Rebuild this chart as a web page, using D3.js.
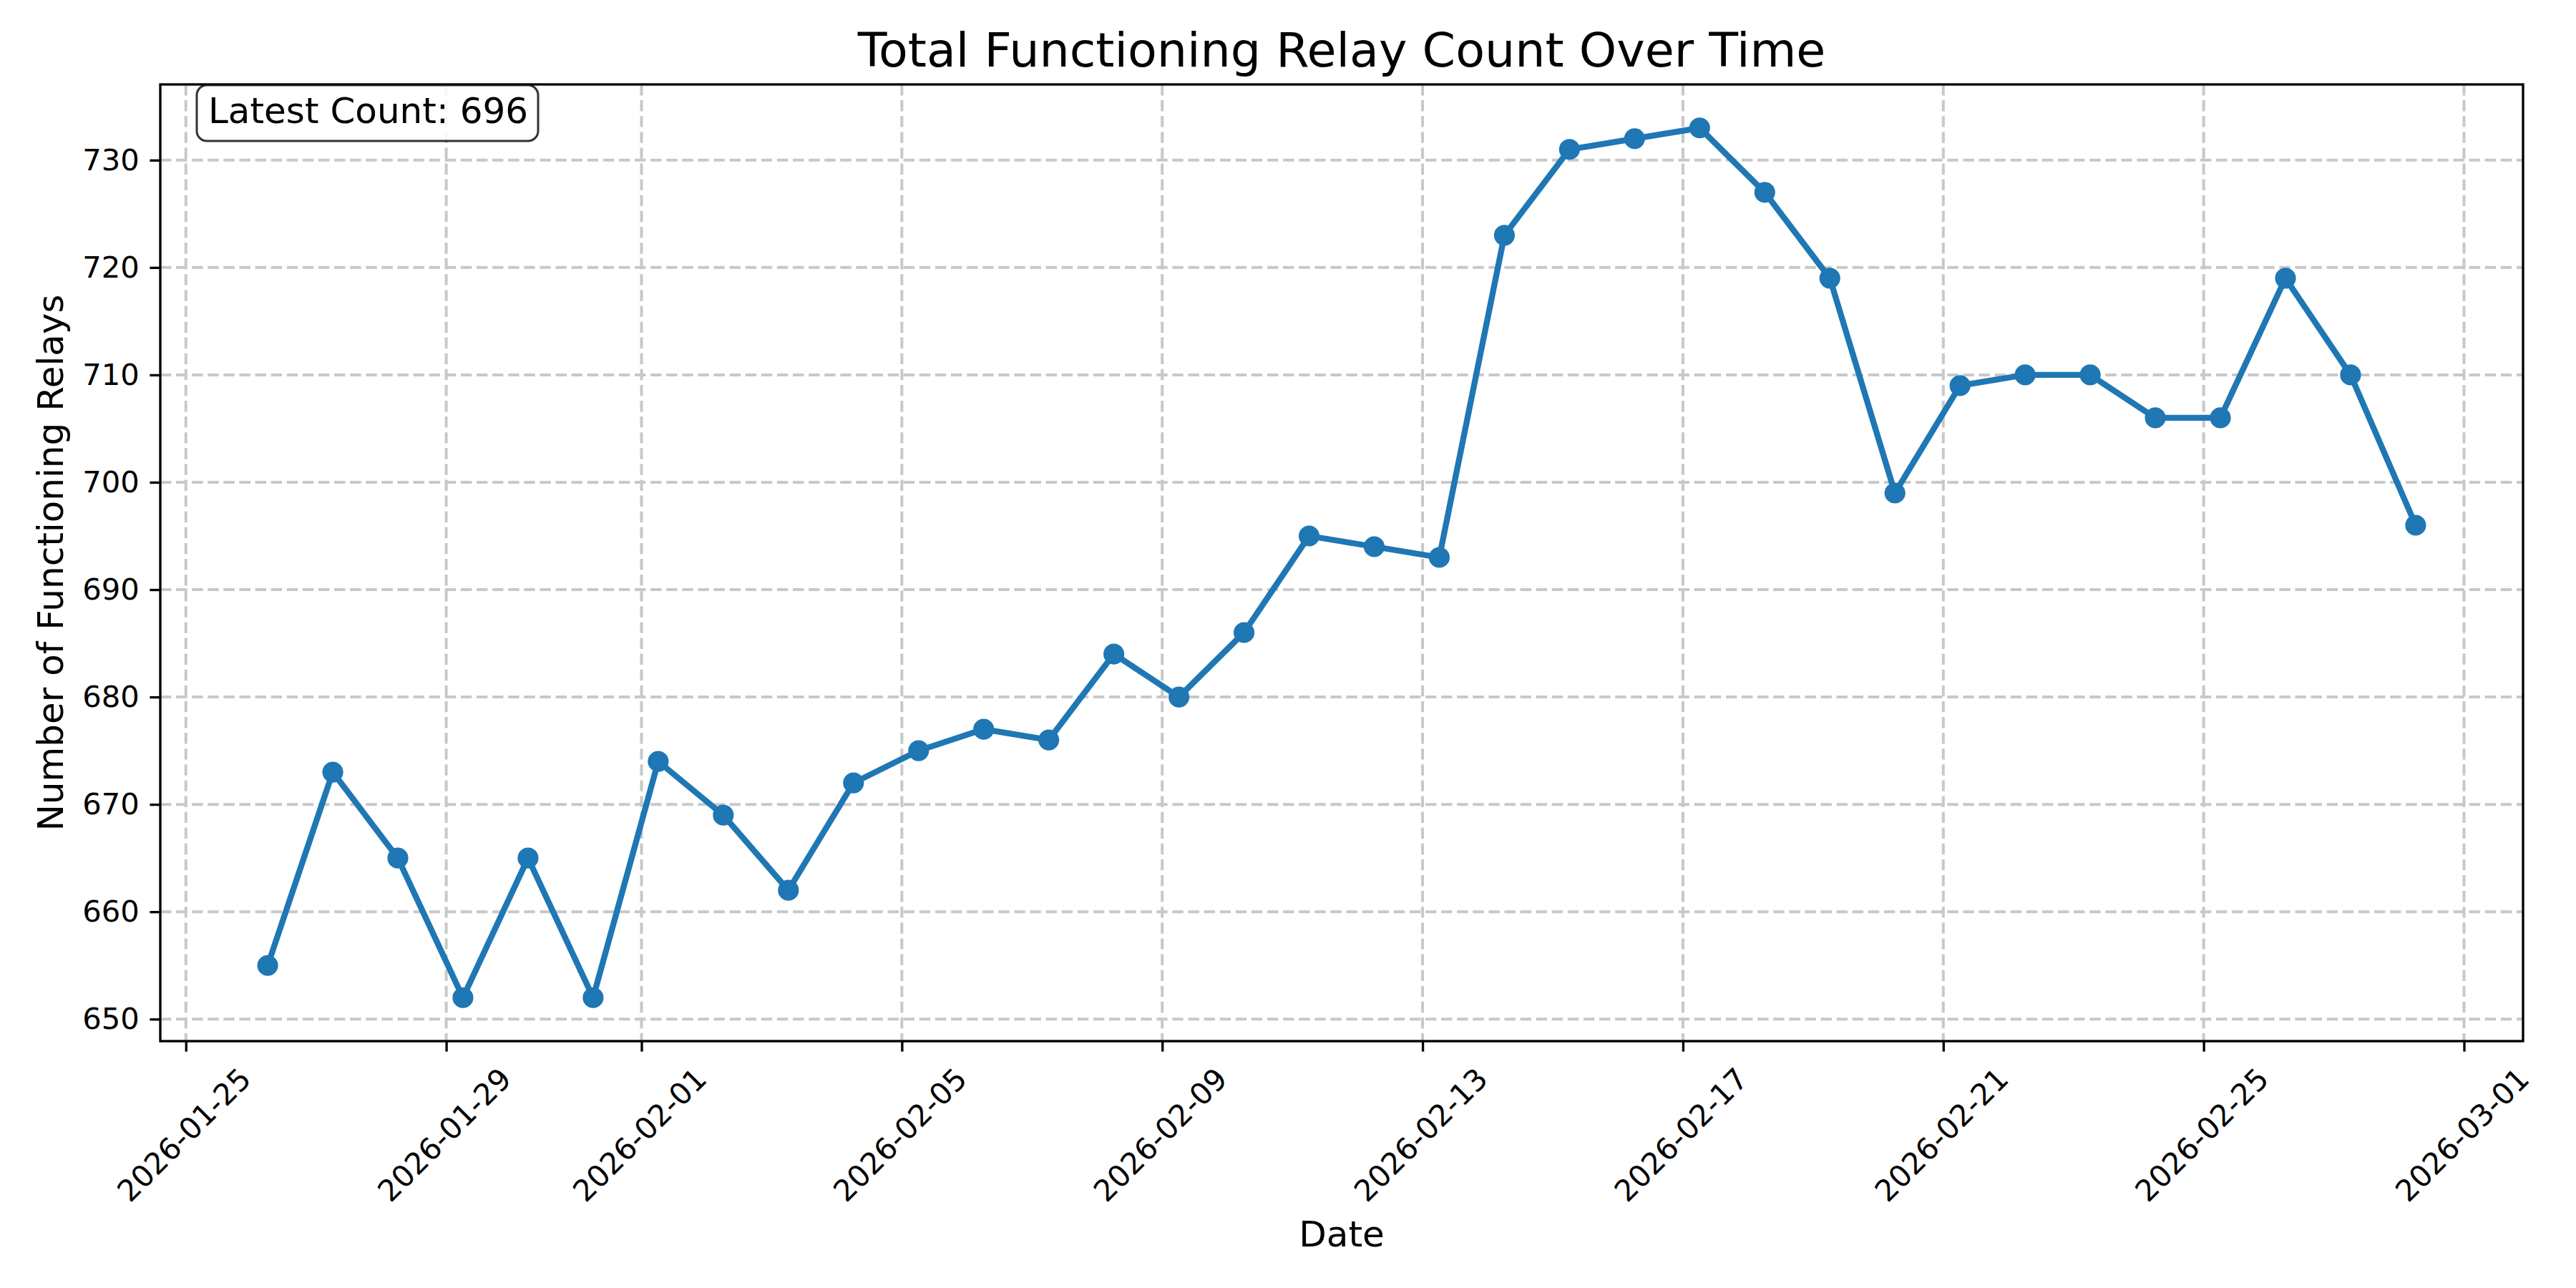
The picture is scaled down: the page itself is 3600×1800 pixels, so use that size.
<!DOCTYPE html>
<html>
<head>
<meta charset="utf-8">
<script src="https://cdn.jsdelivr.net/npm/d3@7"></script>
<style>
    body { margin: 0; background: #ffffff; }
    text { font-family: "DejaVu Sans", sans-serif; }
</style>
</head>
<body>
<div id="relay_chart"></div>
<script>
(function () {
    // data (one reading per day, around 06:10 UTC)
    var dates = [
        '2026-01-26', '2026-01-27', '2026-01-28', '2026-01-29', '2026-01-30', '2026-01-31',
        '2026-02-01', '2026-02-02', '2026-02-03', '2026-02-04', '2026-02-05', '2026-02-06',
        '2026-02-07', '2026-02-08', '2026-02-09', '2026-02-10', '2026-02-11', '2026-02-12',
        '2026-02-13', '2026-02-14', '2026-02-15', '2026-02-16', '2026-02-17', '2026-02-18',
        '2026-02-19', '2026-02-20', '2026-02-21', '2026-02-22', '2026-02-23', '2026-02-24',
        '2026-02-25', '2026-02-26', '2026-02-27', '2026-02-28'
    ];
    var counts = [
        655, 673, 665, 652, 665, 652,
        674, 669, 662, 672, 675, 677,
        676, 684, 680, 686, 695, 694,
        693, 723, 731, 732, 733, 727,
        719, 699, 709, 710, 710, 706,
        706, 719, 710, 696
    ];
    var xTickDates = ['2026-01-25', '2026-01-29', '2026-02-01', '2026-02-05', '2026-02-09',
        '2026-02-13', '2026-02-17', '2026-02-21', '2026-02-25', '2026-03-01'];
    var yTicks = [650, 660, 670, 680, 690, 700, 710, 720, 730];

    const width = 3600;
    const height = 1800;
    const plot_left = 224, plot_right = 3526, plot_top = 118, plot_bottom = 1455;
    const blue = '#1f77b4';
    const tick_font = 41.7;
    const label_font = 50;

    var parseTime = d3.utcParse('%Y-%m-%dT%H:%M');
    var parseDay = d3.utcParse('%Y-%m-%d');

    var data = dates.map(function (d, i) {
        return { date: parseTime(d + 'T06:10'), count: counts[i] };
    });

    // matplotlib style 5% margins
    var tExtent = d3.extent(data, d => d.date.getTime());
    var tPad = (tExtent[1] - tExtent[0]) * 0.05;
    var cExtent = d3.extent(counts);
    var cPad = (cExtent[1] - cExtent[0]) * 0.05;

    var x_scale = d3.scaleUtc()
        .domain([new Date(tExtent[0] - tPad), new Date(tExtent[1] + tPad)])
        .range([plot_left, plot_right]);

    var y_scale = d3.scaleLinear()
        .domain([cExtent[0] - cPad, cExtent[1] + cPad])
        .range([plot_bottom, plot_top]);

    var svg = d3.select('#relay_chart').append('svg')
        .attr('width', width)
        .attr('height', height);

    svg.append('rect')
        .attr('width', width)
        .attr('height', height)
        .attr('fill', '#ffffff');

    var xTicks = xTickDates.map(d => parseDay(d));

    // grid
    var grid = svg.append('g').attr('class', 'grid');
    grid.selectAll('.vgrid').data(xTicks)
        .enter().append('line')
        .attr('x1', d => x_scale(d))
        .attr('x2', d => x_scale(d))
        .attr('y1', plot_top)
        .attr('y2', plot_bottom)
        .attr('stroke', '#c8c8c8')
        .attr('stroke-width', 4)
        .attr('stroke-dasharray', '15.4,6.7');

    grid.selectAll('.hgrid').data(yTicks)
        .enter().append('line')
        .attr('x1', plot_left)
        .attr('x2', plot_right)
        .attr('y1', d => y_scale(d))
        .attr('y2', d => y_scale(d))
        .attr('stroke', '#c8c8c8')
        .attr('stroke-width', 4)
        .attr('stroke-dasharray', '15.4,6.7');

    // line + markers
    var line = d3.line()
        .x(d => x_scale(d.date))
        .y(d => y_scale(d.count));

    svg.append('path')
        .datum(data)
        .attr('fill', 'none')
        .attr('stroke', blue)
        .attr('stroke-width', 8.33)
        .attr('stroke-linejoin', 'round')
        .attr('stroke-linecap', 'square')
        .attr('d', line);

    svg.append('g').selectAll('circle').data(data)
        .enter().append('circle')
        .attr('cx', d => x_scale(d.date))
        .attr('cy', d => y_scale(d.count))
        .attr('r', 12.5)
        .attr('fill', blue)
        .attr('stroke', blue)
        .attr('stroke-width', 4.17);

    // axes
    var xAxis = d3.axisBottom(x_scale)
        .tickValues(xTicks)
        .tickFormat(d3.utcFormat('%Y-%m-%d'))
        .tickSize(14.6)
        .tickSizeOuter(0)
        .tickPadding(14.6);

    var yAxis = d3.axisLeft(y_scale)
        .tickValues(yTicks)
        .tickFormat(d3.format('d'))
        .tickSize(14.6)
        .tickSizeOuter(0)
        .tickPadding(14.6);

    var gx = svg.append('g')
        .attr('transform', `translate(0,${plot_bottom})`)
        .call(xAxis);
    gx.select('.domain').remove();
    gx.selectAll('line').attr('stroke', '#000').attr('stroke-width', 3.33);
    gx.selectAll('text')
        .attr('font-size', tick_font)
        .attr('font-family', '"DejaVu Sans", sans-serif')
        .attr('fill', '#000')
        .attr('y', 0)
        .attr('dy', null)
        .attr('text-anchor', 'middle')
        .attr('dominant-baseline', 'central')
        .attr('transform', 'translate(-3,131) rotate(-45)');

    var gy = svg.append('g')
        .attr('transform', `translate(${plot_left},0)`)
        .call(yAxis);
    gy.select('.domain').remove();
    gy.selectAll('line').attr('stroke', '#000').attr('stroke-width', 3.33);
    gy.selectAll('text')
        .attr('font-size', tick_font)
        .attr('font-family', '"DejaVu Sans", sans-serif')
        .attr('fill', '#000');

    // spines
    svg.append('rect')
        .attr('x', plot_left)
        .attr('y', plot_top)
        .attr('width', plot_right - plot_left)
        .attr('height', plot_bottom - plot_top)
        .attr('fill', 'none')
        .attr('stroke', '#000')
        .attr('stroke-width', 3.33);

    // labels
    svg.append('text')
        .attr('x', (plot_left + plot_right) / 2)
        .attr('y', 93)
        .attr('text-anchor', 'middle')
        .attr('font-size', 66.67)
        .text('Total Functioning Relay Count Over Time');

    svg.append('text')
        .attr('x', (plot_left + plot_right) / 2)
        .attr('y', 1742)
        .attr('text-anchor', 'middle')
        .attr('font-size', label_font)
        .text('Date');

    svg.append('text')
        .attr('transform', `translate(88,${(plot_top + plot_bottom) / 2}) rotate(-90)`)
        .attr('text-anchor', 'middle')
        .attr('font-size', label_font)
        .text('Number of Functioning Relays');

    // latest count box
    var latest = counts[counts.length - 1];
    var box = svg.append('g');
    box.append('rect')
        .attr('x', 275)
        .attr('y', 119)
        .attr('width', 477)
        .attr('height', 78)
        .attr('rx', 14)
        .attr('ry', 14)
        .attr('fill', '#ffffff')
        .attr('fill-opacity', 0.85)
        .attr('stroke', '#000')
        .attr('stroke-opacity', 0.8)
        .attr('stroke-width', 3);
    box.append('text')
        .attr('x', 291)
        .attr('y', 172)
        .attr('font-size', label_font)
        .text('Latest Count: ' + latest);
})();
</script>
</body>
</html>
